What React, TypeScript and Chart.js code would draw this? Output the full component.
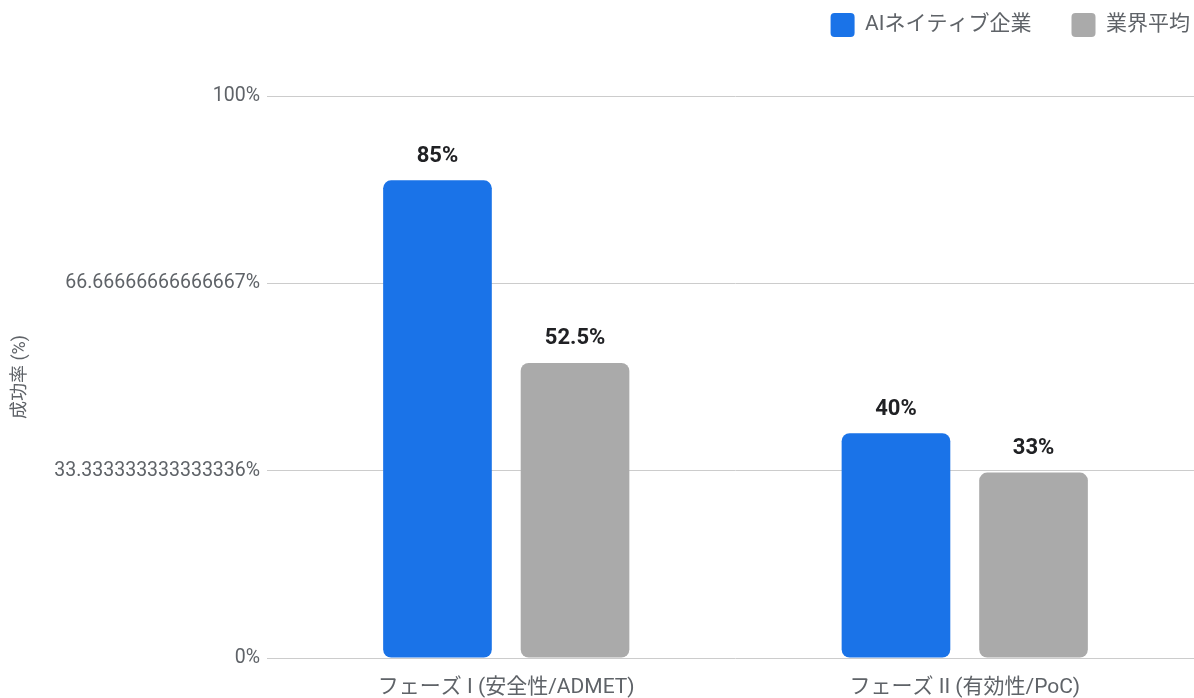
import { useEffect, useRef } from "react";
import { Chart, registerables } from "chart.js";

Chart.register(...registerables);

const categories = ["フェーズ I (安全性/ADMET)", "フェーズ II (有効性/PoC)"];
const seriesNames = ["AIネイティブ企業", "業界平均"];
const aiNativeValues = [85, 40];
const industryAvgValues = [52.5, 33];
const yTickValues = [0, 33.333333333333336, 66.66666666666667, 100];
const yAxisTitle = "成功率 (%)";

const FONT = "Roboto, 'Noto Sans CJK JP', sans-serif";
const BLUE = "#1a73e8";
const GREY = "#aaaaaa";
const TEXT = "#5f6368";

const legendSpacing = {
  id: "legendSpacing",
  beforeInit(chart: any) {
    const origFit = chart.legend.fit;
    chart.legend.fit = function fit() {
      origFit.bind(chart.legend)();
      this.height = 96;
    };
  },
  afterLayout(chart: any) {
    const l = chart.legend;
    l.top -= 27;
    l.bottom -= 27;
    l.left += 36;
    l.right += 36;
  },
};

const valueLabels = {
  id: "valueLabels",
  afterDatasetsDraw(chart: any) {
    const ctx = chart.ctx;
    ctx.save();
    ctx.font = `bold 22px ${FONT}`;
    ctx.fillStyle = "#202124";
    ctx.textAlign = "center";
    ctx.textBaseline = "middle";
    chart.data.datasets.forEach((ds: any, i: number) => {
      const meta = chart.getDatasetMeta(i);
      meta.data.forEach((bar: any, j: number) => {
        ctx.fillText(`${ds.data[j]}%`, bar.x, bar.y - 24);
      });
    });
    ctx.restore();
  },
};

export default function App() {
  const ref = useRef<HTMLCanvasElement | null>(null);

  useEffect(() => {
    if (!ref.current) return;
    const chart = new Chart(ref.current, {
      type: "bar",
      data: {
        labels: categories,
        datasets: [
          {
            label: seriesNames[0],
            data: aiNativeValues,
            backgroundColor: BLUE,
            borderRadius: 8,
            borderSkipped: false,
            categoryPercentage: 0.6,
            barPercentage: 0.79,
          },
          {
            label: seriesNames[1],
            data: industryAvgValues,
            backgroundColor: GREY,
            borderRadius: 8,
            borderSkipped: false,
            categoryPercentage: 0.6,
            barPercentage: 0.79,
          },
        ],
      },
      options: {
        responsive: false,
        animation: false,
        devicePixelRatio: 1,
        layout: { padding: 0 },
        plugins: {
          tooltip: { enabled: false },
          legend: {
            position: "top",
            align: "end",
            labels: {
              boxWidth: 24,
              boxHeight: 24,
              useBorderRadius: true,
              borderRadius: 4,
              padding: 40,
              color: TEXT,
              font: { family: FONT, size: 21 },
            },
          },
        },
        scales: {
          x: {
            grid: { display: false, drawTicks: false },
            border: { display: false },
            afterFit: (scale: any) => {
              scale.height = 40;
            },
            ticks: {
              color: TEXT,
              padding: 17,
              font: { family: FONT, size: 21 },
            },
          },
          y: {
            min: 0,
            max: 100,
            afterBuildTicks: (scale: any) => {
              scale.ticks = yTickValues.map((v) => ({ value: v }));
            },
            afterFit: (scale: any) => {
              scale.width = 277;
            },
            grid: { color: "#cccccc", tickLength: 10, drawTicks: true },
            border: { display: false },
            ticks: {
              color: TEXT,
              padding: 7,
              font: { family: FONT, size: 19.5 },
              callback: (v: any) => `${v}%`,
            },
            title: {
              display: true,
              text: yAxisTitle,
              color: TEXT,
              padding: { top: 10, bottom: 0 },
              font: { family: FONT, size: 18 },
            },
          },
        },
      },
      plugins: [legendSpacing, valueLabels],
    });
    return () => chart.destroy();
  }, []);

  return (
    <div style={{ position: "fixed", left: 0, top: 0, width: 1194, height: 698, background: "#fff" }}>
      <canvas ref={ref} width={1194} height={698} style={{ display: "block" }} />
    </div>
  );
}
